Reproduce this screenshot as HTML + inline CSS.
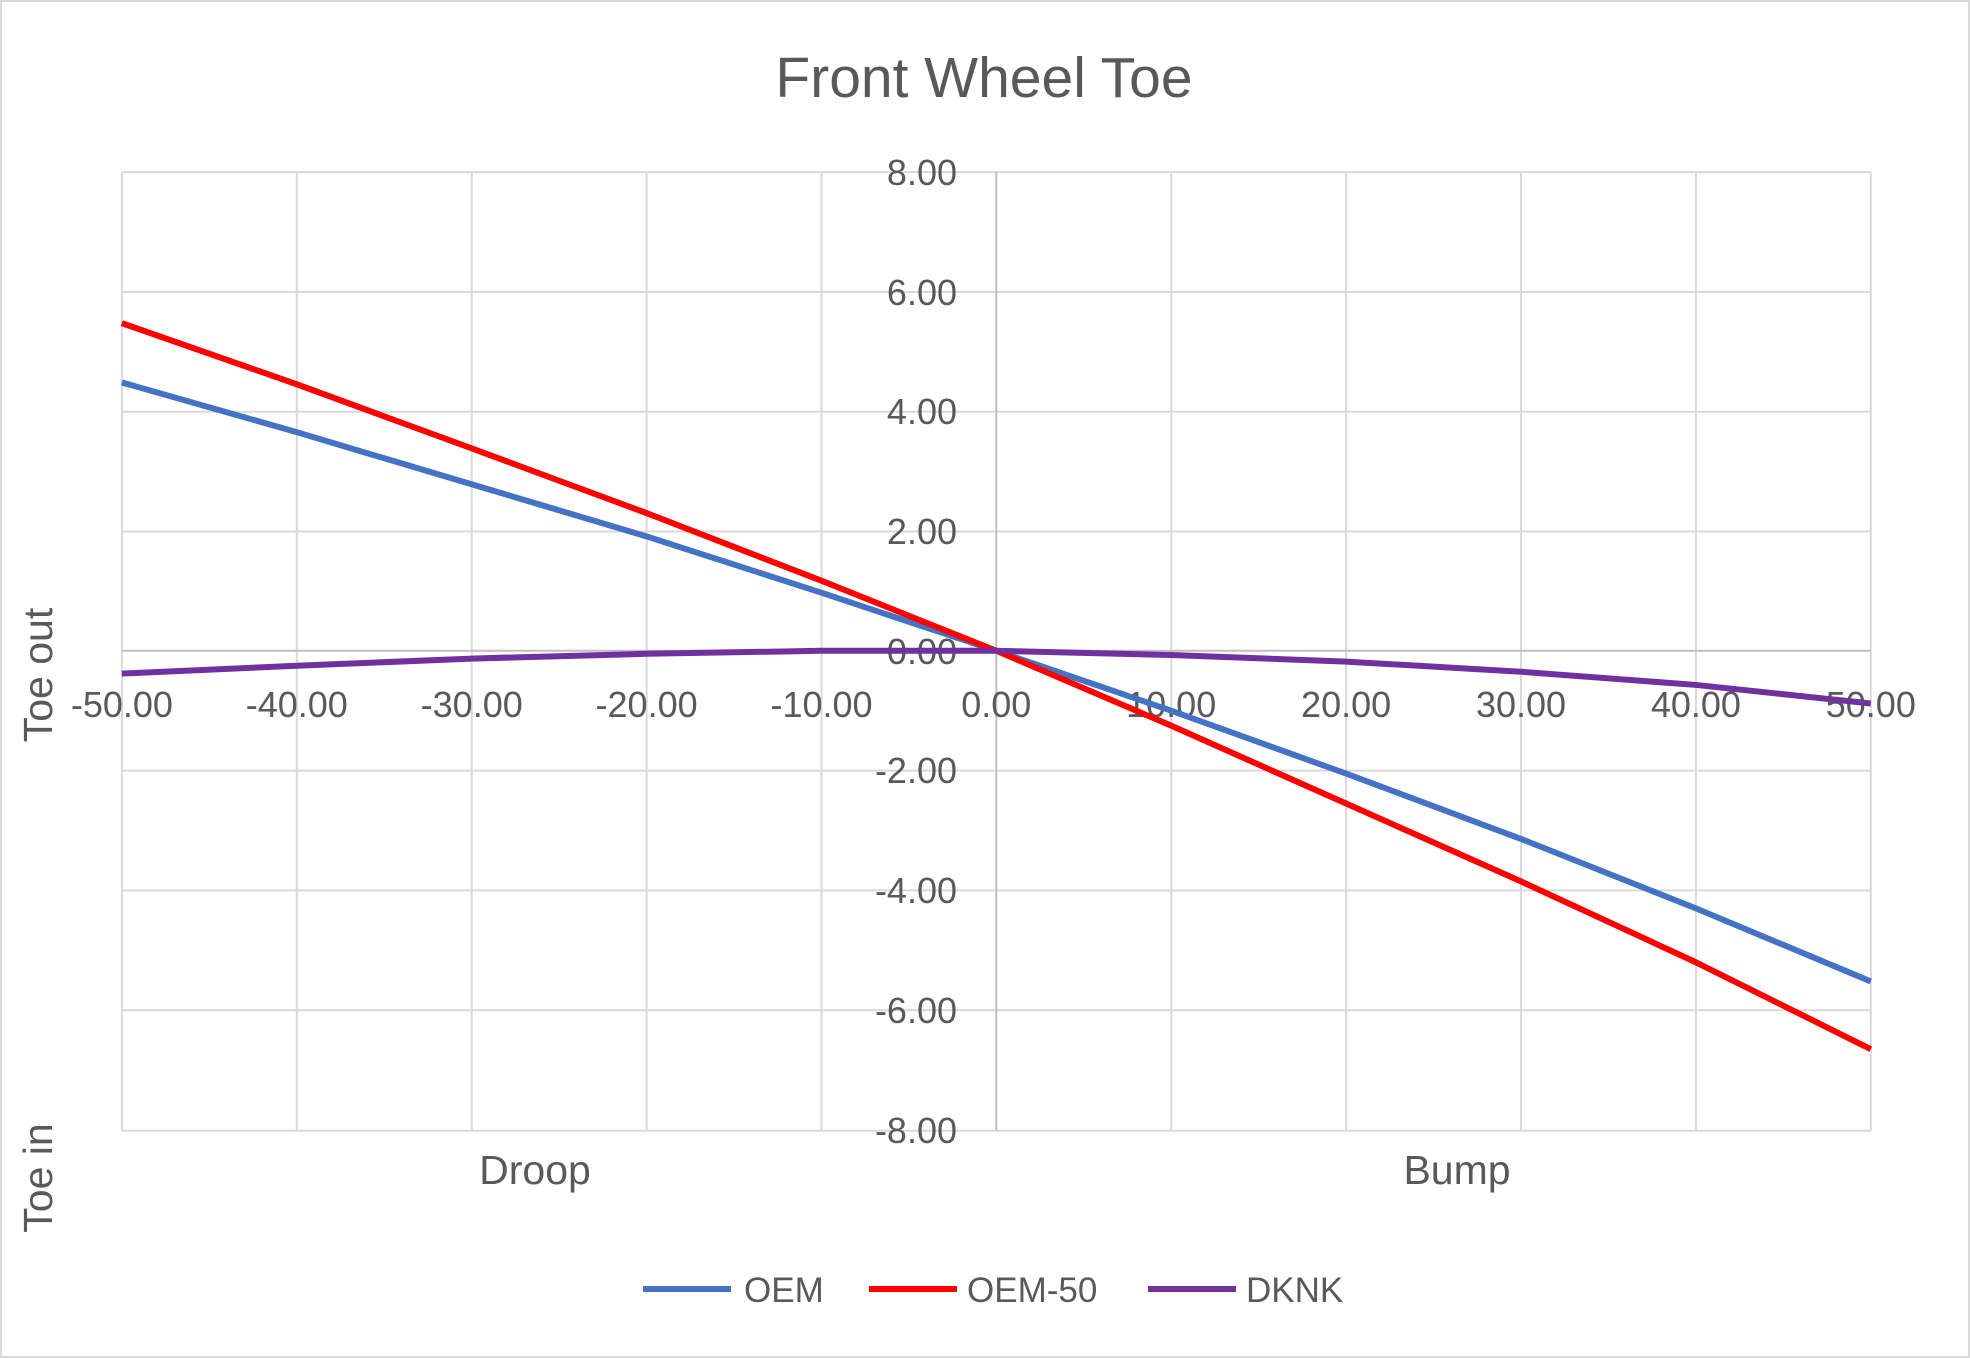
<!DOCTYPE html>
<html><head><meta charset="utf-8"><style>
html,body{margin:0;padding:0;background:#fff;}
svg{display:block;font-family:"Liberation Sans",sans-serif;}
</style></head><body>
<svg width="1970" height="1358" viewBox="0 0 1970 1358" xmlns="http://www.w3.org/2000/svg">
<rect x="1" y="1" width="1968" height="1356" fill="#fff" stroke="#d9d9d9" stroke-width="2"/>
<text x="984" y="97" font-size="57" fill="#595959" text-anchor="middle">Front Wheel Toe</text>
<g stroke="#d9d9d9" stroke-width="2">
<line x1="121.9" y1="172.1" x2="1870.8" y2="172.1"/>
<line x1="121.9" y1="291.9" x2="1870.8" y2="291.9"/>
<line x1="121.9" y1="411.7" x2="1870.8" y2="411.7"/>
<line x1="121.9" y1="531.5" x2="1870.8" y2="531.5"/>
<line x1="121.9" y1="770.6" x2="1870.8" y2="770.6"/>
<line x1="121.9" y1="890.4" x2="1870.8" y2="890.4"/>
<line x1="121.9" y1="1010.2" x2="1870.8" y2="1010.2"/>
<line x1="121.9" y1="1130.8" x2="1870.8" y2="1130.8"/>
<line x1="121.9" y1="172.1" x2="121.9" y2="1130.8"/>
<line x1="296.8" y1="172.1" x2="296.8" y2="1130.8"/>
<line x1="471.7" y1="172.1" x2="471.7" y2="1130.8"/>
<line x1="646.6" y1="172.1" x2="646.6" y2="1130.8"/>
<line x1="821.5" y1="172.1" x2="821.5" y2="1130.8"/>
<line x1="1171.2" y1="172.1" x2="1171.2" y2="1130.8"/>
<line x1="1346.1" y1="172.1" x2="1346.1" y2="1130.8"/>
<line x1="1521.0" y1="172.1" x2="1521.0" y2="1130.8"/>
<line x1="1695.9" y1="172.1" x2="1695.9" y2="1130.8"/>
<line x1="1870.8" y1="172.1" x2="1870.8" y2="1130.8"/>
</g>
<g stroke="#bfbfbf" stroke-width="2">
<line x1="121.9" y1="650.8" x2="1870.8" y2="650.8"/>
<line x1="996.3" y1="172.1" x2="996.3" y2="1130.8"/>
</g>
<g font-size="36" fill="#595959" text-anchor="end">
<text x="957" y="185">8.00</text>
<text x="957" y="305">6.00</text>
<text x="957" y="424">4.00</text>
<text x="957" y="544">2.00</text>
<text x="957" y="664">0.00</text>
<text x="957" y="783">-2.00</text>
<text x="957" y="903">-4.00</text>
<text x="957" y="1023">-6.00</text>
<text x="957" y="1143">-8.00</text>
</g>
<g font-size="36" fill="#595959" text-anchor="middle">
<text x="121.9" y="717">-50.00</text>
<text x="296.8" y="717">-40.00</text>
<text x="471.7" y="717">-30.00</text>
<text x="646.6" y="717">-20.00</text>
<text x="821.5" y="717">-10.00</text>
<text x="996.3" y="717">0.00</text>
<text x="1171.2" y="717">10.00</text>
<text x="1346.1" y="717">20.00</text>
<text x="1521.0" y="717">30.00</text>
<text x="1695.9" y="717">40.00</text>
<text x="1870.8" y="717">50.00</text>
</g>
<g font-size="41" fill="#595959" text-anchor="middle">
<text x="535" y="1184">Droop</text>
<text x="1457" y="1184">Bump</text>
<text transform="translate(52,675) rotate(-90)">Toe out</text>
<text transform="translate(52,1178) rotate(-90)">Toe in</text>
</g>
<g transform="matrix(17.49 0 0 -59.9 996.3 650.8)" fill="none" stroke-linejoin="round">
<polyline vector-effect="non-scaling-stroke" stroke="#4472c4" stroke-width="6" points="-50,4.48 -40,3.65 -30,2.78 -20,1.91 -10,0.97 0,0 10,-1.0 20,-2.05 30,-3.14 40,-4.3 50,-5.52"/>
<polyline vector-effect="non-scaling-stroke" stroke="#ff0000" stroke-width="6" points="-50,5.47 -40,4.45 -30,3.38 -20,2.3 -10,1.17 0,0 10,-1.25 20,-2.55 30,-3.85 40,-5.2 50,-6.65"/>
<polyline vector-effect="non-scaling-stroke" stroke="#7030a0" stroke-width="6" points="-50,-0.38 -40,-0.25 -30,-0.13 -20,-0.05 -10,0 0,0 10,-0.07 20,-0.18 30,-0.35 40,-0.57 50,-0.88"/>
</g>
<g stroke-width="6">
<line x1="643" y1="1289" x2="731" y2="1289" stroke="#4472c4"/>
<line x1="869" y1="1289" x2="957" y2="1289" stroke="#ff0000"/>
<line x1="1148" y1="1289" x2="1236" y2="1289" stroke="#7030a0"/>
</g>
<g font-size="35" fill="#595959">
<text x="744" y="1302">OEM</text>
<text x="967" y="1302">OEM-50</text>
<text x="1246" y="1302">DKNK</text>
</g>
</svg>
</body></html>
